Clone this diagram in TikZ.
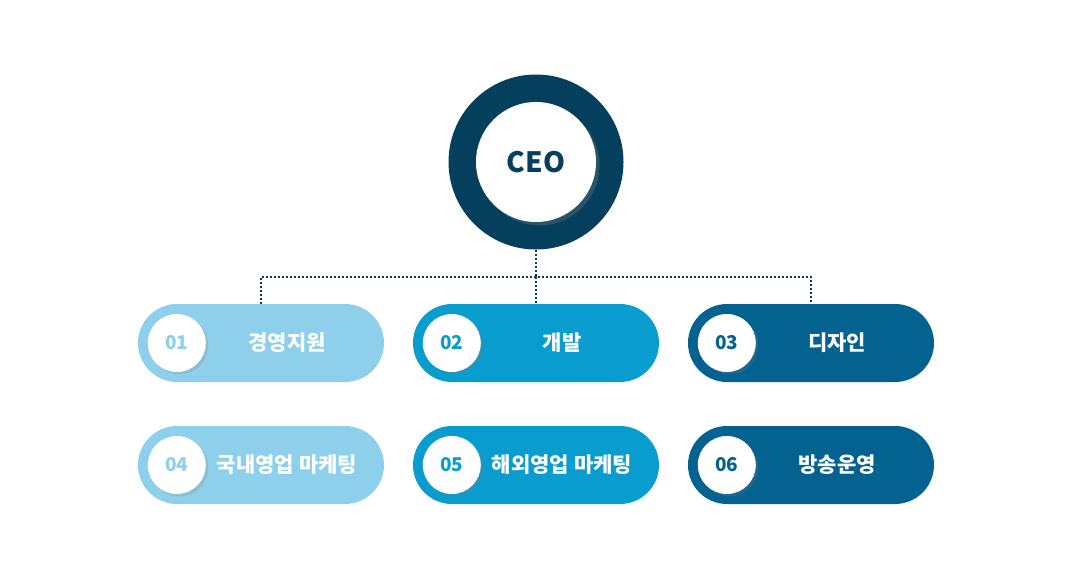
\documentclass[tikz,border=0pt]{standalone}
\usepackage{fontspec}
\setmainfont{Noto Sans CJK KR}
\usetikzlibrary{shapes.misc,shadows}

\definecolor{ceoblue}{HTML}{04405E}
\definecolor{lightblue}{HTML}{8ED0EB}
\definecolor{midblue}{HTML}{099CCF}
\definecolor{darkblue}{HTML}{03628F}

\tikzset{
  pill/.style={rounded rectangle, fill=#1, minimum width=246pt, minimum height=78pt, inner sep=0pt},
  numdot/.style={circle, fill=white, text=#1, minimum size=58pt, inner sep=0pt,
    font=\bfseries\fontsize{19}{19}\selectfont,
    drop shadow={shadow xshift=2.5pt, shadow yshift=-2.5pt, opacity=0.22}},
  deptlabel/.style={text=white, font=\bfseries\fontsize{21}{21}\selectfont},
  bus/.style={ceoblue, line width=2pt, dash pattern=on 2pt off 2pt}
}

\begin{document}
\begin{tikzpicture}[x=1pt,y=-1pt]
  \useasboundingbox (0,0) rectangle (1074,578);

  % CEO
  \node[circle, fill=ceoblue, minimum size=175pt, inner sep=0pt] (ceo) at (536,162) {};
  \node[circle, fill=white, minimum size=120pt, inner sep=0pt, text=ceoblue,
    font=\bfseries\fontsize{28}{28}\selectfont,
    drop shadow={shadow xshift=3.5pt, shadow yshift=-3.5pt, opacity=0.3}] (ceoin) at (ceo.center) {CEO};

  % departments
  \foreach \name/\x/\y/\col/\num/\txt in {
      d1/261/343/lightblue/01/경영지원,
      d2/536/343/midblue/02/개발,
      d3/811/343/darkblue/03/디자인,
      d4/261/465/lightblue/04/국내영업 마케팅,
      d5/536/465/midblue/05/해외영업 마케팅,
      d6/811/465/darkblue/06/방송운영} {
    \node[pill=\col] (\name) at (\x,\y) {};
    \node[numdot=\col] (\name n) at ([xshift=39pt]\name.west) {\num};
    \node[deptlabel] (\name t) at ([xshift=26pt]\name.center) {\txt};
  }

  % dotted connectors
  \coordinate (hub) at (536,277);
  \draw[bus] (ceo.south) -- (hub);
  \draw[bus] (d1.north) |- (hub) -| (d3.north);
  \draw[bus] (hub) -- (d2.north);
\end{tikzpicture}
\end{document}
